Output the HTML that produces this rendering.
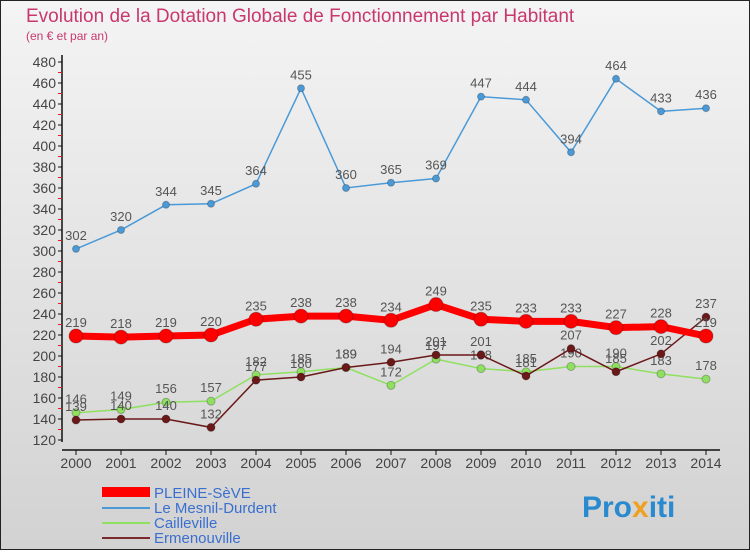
<!DOCTYPE html>
<html><head><meta charset="utf-8"><style>
body{margin:0;width:750px;height:550px;overflow:hidden;font-family:"Liberation Sans",sans-serif}
</style></head><body>
<svg id="c" width="750" height="550" xmlns="http://www.w3.org/2000/svg">
<defs><linearGradient id="bg" x1="0" y1="0" x2="0" y2="1"><stop offset="0" stop-color="#f4f4f4"/><stop offset="1" stop-color="#d2d2d2"/></linearGradient></defs>
<rect width="750" height="550" fill="url(#bg)" stroke="#222" stroke-width="2"/>
<text x="26" y="22" font-size="19" fill="#c8386e">Evolution de la Dotation Globale de Fonctionnement par Habitant</text>
<text x="26" y="40" font-size="12" fill="#c8386e">(en € et par an)</text>
<g id="axes"></g><g id="series"></g>
<g>
<rect x="102" y="487" width="48" height="10" fill="#f00"/>
<text x="154" y="498" font-size="15" fill="#3a6fd0">PLEINE-SèVE</text>
<line x1="102" y1="508" x2="150" y2="508" stroke="#4a9ad8" stroke-width="2"/>
<text x="154" y="513" font-size="15" fill="#3a6fd0">Le Mesnil-Durdent</text>
<line x1="102" y1="523" x2="150" y2="523" stroke="#8fe060" stroke-width="2"/>
<text x="154" y="528" font-size="15" fill="#3a6fd0">Cailleville</text>
<line x1="102" y1="538" x2="150" y2="538" stroke="#7a2a2a" stroke-width="2"/>
<text x="154" y="543" font-size="15" fill="#3a6fd0">Ermenouville</text>
</g>
<text x="582" y="517" font-size="30" font-weight="bold" fill="#2a8ad0">Pro<tspan fill="#f0a020">x</tspan>iti</text>
</svg>
<script>
const years=[2000,2001,2002,2003,2004,2005,2006,2007,2008,2009,2010,2011,2012,2013,2014];
const pleine=[219,218,219,220,235,238,238,234,249,235,233,233,227,228,219];
const mesnil=[302,320,344,345,364,455,360,365,369,447,444,394,464,433,436];
const caille=[146,149,156,157,182,185,189,172,197,188,185,190,190,183,178];
const ermen=[139,140,140,132,177,180,189,194,201,201,181,207,185,202,237];
const yTicks=[120,140,160,180,200,220,240,260,280,300,320,340,360,380,400,420,440,460,480];
const NS="http://www.w3.org/2000/svg";
const xs=y=>76+(y-2000)*45;
const ys=v=>440-(v-120)*1.05;
function mk(t,a,p){const e=document.createElementNS(NS,t);for(const k in a)e.setAttribute(k,a[k]);p.appendChild(e);return e;}
const ax=document.getElementById('axes'),sr=document.getElementById('series');
let l=mk('line',{x1:62,y1:55,x2:62,y2:442,stroke:'#111','stroke-width':1.5},ax);


l=mk('line',{x1:62,y1:450,x2:720,y2:450,stroke:'#111','stroke-width':1.5},ax);


yTicks.forEach(v=>{const y=ys(v);
 mk('line',{x1:58,y1:y,x2:62,y2:y,stroke:'#111'},ax);
 if(v<480)mk('line',{x1:58,y1:y-10.5,x2:62,y2:y-10.5,stroke:'#e02020'},ax);
 const t=mk('text',{x:56,y:y+5,'font-size':14,'text-anchor':'end',fill:'#444'},ax);t.textContent=v;
 
 });
years.forEach(yr=>{const x=xs(yr);
 mk('line',{x1:x,y1:450,x2:x,y2:455,stroke:'#111'},ax);
 const t=mk('text',{x:x,y:468,'font-size':14,'text-anchor':'middle',fill:'#444'},ax);t.textContent=yr;
 
 });
function series(data,color,w,r,name){
 const g=mk('g',{},sr);
 
 
 mk('polyline',{points:data.map((v,i)=>xs(years[i])+','+ys(v)).join(' '),fill:'none',stroke:color,'stroke-width':w},g);
 data.forEach((v,i)=>{const c=mk('circle',{cx:xs(years[i]),cy:ys(v),r:r,fill:color,stroke:'rgba(0,0,0,0.25)'},g);
  
  
  const t=mk('text',{x:xs(years[i]),y:ys(v)-9,'font-size':13,'text-anchor':'middle',fill:'#555'},g);t.textContent=v;
  
  });
}
series(mesnil,'#4a9ad8',1.5,3.5,'mesnil-series');
series(caille,'#8fe060',1.5,4,'cailleville-series');
series(ermen,'#6a1818',1.5,4,'ermenouville-series');
series(pleine,'#f00',7,7,'pleine-seve-series');
</script>
</body></html>
